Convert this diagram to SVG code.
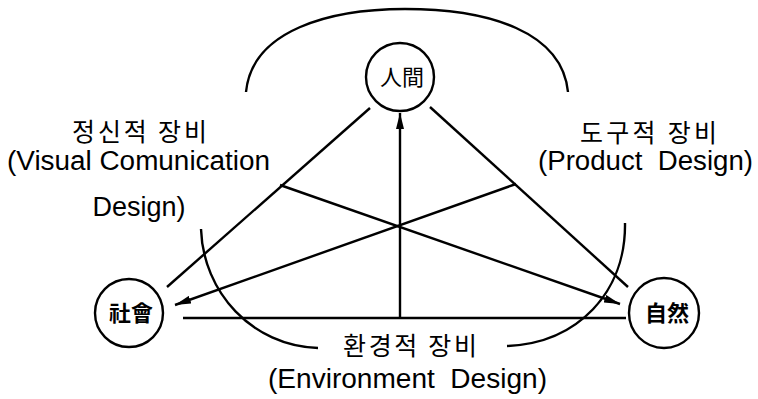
<svg xmlns="http://www.w3.org/2000/svg" width="758" height="399" viewBox="0 0 758 399">
<style>
.ln{stroke:#000;stroke-width:2.4;fill:none}
.nd{stroke:#000;stroke-width:2.4;fill:#fff}
.ko{font-family:"Noto Sans CJK KR","Noto Sans",sans-serif;font-size:25px;fill:#000}
.en{font-family:"Liberation Sans",Arial,sans-serif;font-size:27px;fill:#000}
.lb{font-family:"Noto Sans CJK KR","Noto Sans CJK TC",sans-serif;font-size:22px;fill:#000;text-anchor:middle}
</style>
<defs>
<marker id="ah" viewBox="0 0 16 8" refX="16" refY="4" markerUnits="userSpaceOnUse" markerWidth="16" markerHeight="8" orient="auto">
<path d="M0,0 L16,4 L0,8 z" fill="#000"/>
</marker>
</defs>
<rect width="758" height="399" fill="#fff"/>
<g id="arcs">
<path class="ln" d="M246,92 C252,30 330,9 405,9 C490,9 562,32 568,92"/>
<path class="ln" d="M201,229 C203,292 252,346 318,348"/>
<path class="ln" d="M625,223 C626,292 578,343 507,346"/>
</g>
<g id="connectors">
<line class="ln" x1="370" y1="108" x2="167" y2="287"/>
<line class="ln" x1="430" y1="107" x2="628" y2="287"/>
<line class="ln" x1="183" y1="318" x2="626" y2="318"/>
<line class="ln" x1="400" y1="318" x2="400" y2="113" marker-end="url(#ah)"/>
<line class="ln" x1="516" y1="184" x2="175" y2="305" marker-end="url(#ah)"/>
<line class="ln" x1="280" y1="185" x2="620" y2="304" marker-end="url(#ah)"/>
</g>
<g id="n-human">
<circle class="nd" cx="400" cy="77" r="34"/>
<text class="lb" x="402" y="85">人間</text>
</g>
<g id="n-society">
<circle class="nd" cx="129" cy="313" r="34"/>
<text class="lb" x="131" y="321" font-weight="bold">社會</text>
</g>
<g id="n-nature">
<circle class="nd" cx="664" cy="313" r="35"/>
<text class="lb" x="667" y="321" font-weight="bold">自然</text>
</g>
<g id="labels">
<text class="ko" x="72" y="141" textLength="135" lengthAdjust="spacing">정신적 장비</text>
<text class="en" x="7" y="170" textLength="263" lengthAdjust="spacingAndGlyphs">(Visual Comunication</text>
<text class="en" x="139" y="216" text-anchor="middle">Design)</text>
<text class="ko" x="580" y="142" textLength="137" lengthAdjust="spacing">도구적 장비</text>
<text class="en" x="538" y="170" textLength="215" lengthAdjust="spacingAndGlyphs" xml:space="preserve">(Product  Design)</text>
<text class="ko" x="343" y="355" textLength="134" lengthAdjust="spacing">환경적 장비</text>
<text class="en" x="268" y="388" textLength="279" lengthAdjust="spacingAndGlyphs" xml:space="preserve">(Environment  Design)</text>
</g>
</svg>
